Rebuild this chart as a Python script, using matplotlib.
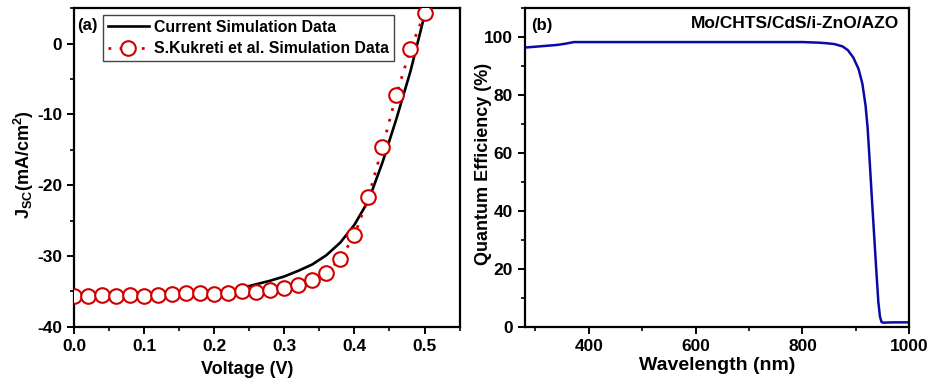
import numpy as np
import matplotlib
matplotlib.use('Agg')
import matplotlib.pyplot as plt
from matplotlib.ticker import MultipleLocator

plt.rcParams.update({
    'font.family': ['Liberation Sans', 'DejaVu Sans'],
    'font.weight': 'bold',
    'axes.labelweight': 'bold',
    'axes.unicode_minus': False,
    'mathtext.fontset': 'custom',
    'mathtext.rm': 'Liberation Sans:bold',
    'mathtext.bf': 'Liberation Sans:bold',
    'mathtext.it': 'Liberation Sans:bold',
    'axes.linewidth': 1.6,
    'xtick.major.width': 1.4, 'ytick.major.width': 1.4,
    'xtick.minor.width': 1.2, 'ytick.minor.width': 1.2,
    'xtick.major.size': 5, 'ytick.major.size': 5,
    'xtick.minor.size': 3, 'ytick.minor.size': 3,
    'xtick.labelsize': 12.5, 'ytick.labelsize': 12.5,
})

# (a) J-V data
v_current = [0.00, 0.05, 0.10, 0.15, 0.20, 0.22, 0.24, 0.26, 0.28, 0.30, 0.32,
             0.34, 0.36, 0.38, 0.40, 0.42, 0.44, 0.46, 0.48, 0.50]
j_current = [-35.5, -35.5, -35.4, -35.3, -35.1, -34.9, -34.5, -34.0, -33.5, -32.9, -32.1,
             -31.2, -29.9, -28.1, -25.6, -22.2, -16.8, -10.6, -3.9, 4.0]

v_kukreti = [0.00, 0.02, 0.04, 0.06, 0.08, 0.10, 0.12, 0.14, 0.16, 0.18,
             0.20, 0.22, 0.24, 0.26, 0.28, 0.30, 0.32, 0.34, 0.36, 0.38,
             0.40, 0.42, 0.44, 0.46, 0.48, 0.50]
j_kukreti = [-35.6, -35.6, -35.5, -35.6, -35.5, -35.6, -35.5, -35.4, -35.2, -35.3,
             -35.4, -35.2, -35.0, -35.1, -34.8, -34.5, -34.1, -33.4, -32.4, -30.4,
             -27.1, -21.7, -14.6, -7.2, -0.75, 4.26]

# (b) quantum efficiency
wavelength = [280, 300, 320, 340, 355, 372, 400, 500, 600, 700, 800, 830, 845, 860,
              875, 885, 895, 905, 912, 918, 922, 926, 930, 934, 938, 942, 945,
              948, 951, 970, 1000]
qe = [96.4, 96.7, 97.0, 97.3, 97.7, 98.3, 98.3, 98.3, 98.3, 98.3, 98.3, 98.1, 97.9, 97.6,
      96.8, 95.5, 93.0, 89.0, 84.0, 76.5, 68.5, 56.5, 44.0, 32.0, 20.0, 8.5, 3.5,
      1.6, 1.4, 1.5, 1.5]

fig = plt.figure(figsize=(9.36, 3.81), dpi=100)
ax1 = fig.add_axes([0.079, 0.1425, 0.412, 0.836])
ax2 = fig.add_axes([0.5606, 0.1425, 0.4109, 0.836])

# --- panel (a) ---
ax1.plot(v_current, j_current, color='black', lw=1.9, zorder=2,
         label='Current Simulation Data')
ax1.plot(v_kukreti, j_kukreti, color='#d10000', lw=2, ls=(0, (1, 3)),
         marker='o', ms=10.5, mfc='white', mec='#d10000', mew=1.5, zorder=3,
         label='S.Kukreti et al. Simulation Data')
ax1.set_xlim(0, 0.55)
ax1.set_ylim(-40, 5)
ax1.xaxis.set_major_locator(MultipleLocator(0.1))
ax1.xaxis.set_minor_locator(MultipleLocator(0.05))
ax1.yaxis.set_major_locator(MultipleLocator(10))
ax1.yaxis.set_minor_locator(MultipleLocator(5))
ax1.set_xlabel('Voltage (V)', fontsize=13)
ax1.xaxis.set_label_coords(0.45, -0.108)
ax1.set_ylabel(r'J$_{\mathbf{SC}}$(mA/cm$^{\mathbf{2}}$)', fontsize=13)
ax1.yaxis.set_label_coords(-0.098, 0.51)
ax1.text(0.008, 0.969, '(a)', transform=ax1.transAxes, ha='left', va='top', fontsize=12)
leg = ax1.legend(loc='upper left', bbox_to_anchor=(0.075, 0.978), borderaxespad=0,
                 fontsize=11.4, fancybox=False, edgecolor='#444444', framealpha=1,
                 handlelength=2.6, handletextpad=0.35, numpoints=1, borderpad=0.3,
                 labelspacing=0.4)
leg.get_frame().set_linewidth(1.0)

# --- panel (b) ---
ax2.plot(wavelength, qe, color='#0a0aa8', lw=1.8)
ax2.set_xlim(280, 1000)
ax2.set_ylim(0, 110)
ax2.xaxis.set_major_locator(MultipleLocator(200))
ax2.xaxis.set_minor_locator(MultipleLocator(100))
ax2.yaxis.set_major_locator(MultipleLocator(20))
ax2.yaxis.set_minor_locator(MultipleLocator(10))
ax2.set_xlabel('Wavelength (nm)', fontsize=14)
ax2.xaxis.set_label_coords(0.5, -0.095)
ax2.set_ylabel('Quantum Efficiency (%)', fontsize=13)
ax2.yaxis.set_label_coords(-0.085, 0.51)
ax2.text(0.016, 0.969, '(b)', transform=ax2.transAxes, ha='left', va='top', fontsize=12)
ax2.text(0.973, 0.975, 'Mo/CHTS/CdS/i-ZnO/AZO', transform=ax2.transAxes,
         ha='right', va='top', fontsize=12.5)

for ax in (ax1, ax2):
    ax.tick_params(which='both', direction='out', top=False, right=False)

fig.savefig('out.png', dpi=100)
